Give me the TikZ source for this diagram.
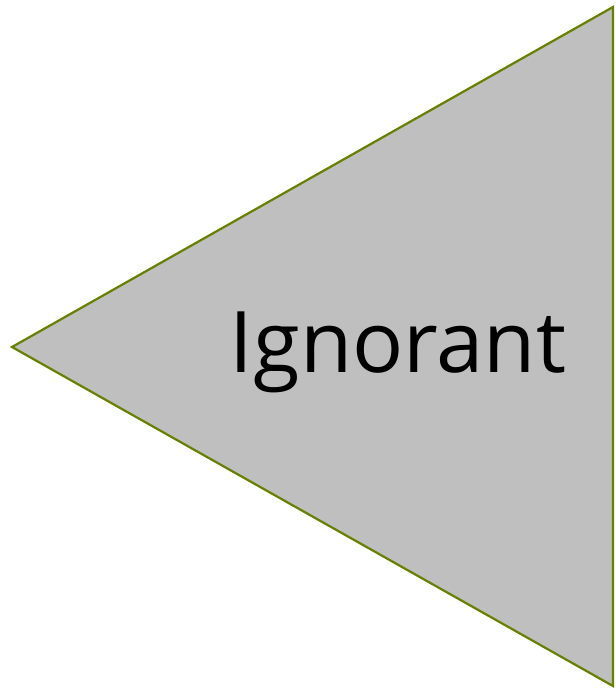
\documentclass[tikz,border=0pt]{standalone}
\usepackage{fontspec}
\setmainfont{Open Sans}
\definecolor{olivestroke}{RGB}{102,128,0}
\definecolor{trifill}{RGB}{191,191,191}
\begin{document}
\begin{tikzpicture}[x=1pt,y=-1pt,
  tri/.style={draw=olivestroke,fill=trifill,line width=2.2pt,line join=miter},
  lbl/.style={anchor=base,inner sep=0pt,font=\fontsize{85}{85}\selectfont}]
\useasboundingbox (0,0) rectangle (616,691);
\coordinate (L) at (12,347);
\coordinate (T) at (613,7);
\coordinate (B) at (613,686);
\draw[tri] (L) -- (T) -- (B) -- cycle;
\node[lbl] (txt) at (398,372) {Ignorant};
\end{tikzpicture}
\end{document}
